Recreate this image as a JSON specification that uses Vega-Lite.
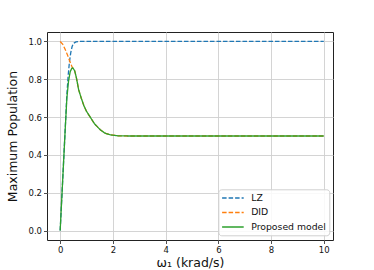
{
  "$schema": "https://vega.github.io/schema/vega-lite/v6.json",
  "autosize": "none",
  "width": 286,
  "height": 208,
  "padding": {"left": 47, "top": 32, "right": 41, "bottom": 30},
  "background": "white",
  "config": {
    "font": "DejaVu Sans",
    "view": {"stroke": "#222", "strokeWidth": 1},
    "axis": {
      "grid": true,
      "gridColor": "#cfcfcf",
      "gridWidth": 0.9,
      "domain": false,
      "tickColor": "#222",
      "tickSize": 3.5,
      "tickWidth": 0.8,
      "labelFontSize": 8.5,
      "labelColor": "#111",
      "labelPadding": 2,
      "titleFontSize": 12.5,
      "titleFontWeight": "normal",
      "titleColor": "#111"
    },
    "legend": {
      "title": null,
      "orient": "none",
      "legendX": 171.3,
      "legendY": 157.3,
      "symbolType": "M-0.96,0H3.36",
      "symbolSize": 100,
      "symbolStrokeWidth": 1.5,
      "labelFontSize": 9.3,
      "labelColor": "#111",
      "labelOffset": 18.3,
      "rowPadding": 2.5,
      "padding": 2.6,
      "strokeColor": "#d0d0d0",
      "fillColor": "rgba(255,255,255,0.85)",
      "cornerRadius": 3
    }
  },
  "datasets": {
    "curves": [
      {"series": "LZ", "w": 0, "p": 0},
      {"series": "LZ", "w": 0.064, "p": 0.18},
      {"series": "LZ", "w": 0.127, "p": 0.357},
      {"series": "LZ", "w": 0.19, "p": 0.535},
      {"series": "LZ", "w": 0.25, "p": 0.71},
      {"series": "LZ", "w": 0.3, "p": 0.815},
      {"series": "LZ", "w": 0.35, "p": 0.89},
      {"series": "LZ", "w": 0.4, "p": 0.94},
      {"series": "LZ", "w": 0.45, "p": 0.972},
      {"series": "LZ", "w": 0.5, "p": 0.99},
      {"series": "LZ", "w": 0.6, "p": 0.998},
      {"series": "LZ", "w": 0.7, "p": 1.0},
      {"series": "LZ", "w": 1.0, "p": 1.0},
      {"series": "LZ", "w": 10, "p": 1.0},
      {"series": "DID", "w": 0, "p": 1.0},
      {"series": "DID", "w": 0.1, "p": 0.985},
      {"series": "DID", "w": 0.2, "p": 0.955},
      {"series": "DID", "w": 0.3, "p": 0.92},
      {"series": "DID", "w": 0.4, "p": 0.882},
      {"series": "DID", "w": 0.47, "p": 0.86},
      {"series": "DID", "w": 0.55, "p": 0.845},
      {"series": "DID", "w": 0.62, "p": 0.805},
      {"series": "DID", "w": 0.7, "p": 0.745},
      {"series": "DID", "w": 0.8, "p": 0.7},
      {"series": "DID", "w": 0.9, "p": 0.66},
      {"series": "DID", "w": 1.0, "p": 0.63},
      {"series": "DID", "w": 1.14, "p": 0.6},
      {"series": "DID", "w": 1.3, "p": 0.565},
      {"series": "DID", "w": 1.52, "p": 0.533},
      {"series": "DID", "w": 1.7, "p": 0.515},
      {"series": "DID", "w": 1.9, "p": 0.506},
      {"series": "DID", "w": 2.2, "p": 0.501},
      {"series": "DID", "w": 2.6, "p": 0.5},
      {"series": "DID", "w": 10, "p": 0.5},
      {"series": "Proposed model", "w": 0, "p": 0},
      {"series": "Proposed model", "w": 0.064, "p": 0.18},
      {"series": "Proposed model", "w": 0.127, "p": 0.357},
      {"series": "Proposed model", "w": 0.19, "p": 0.533},
      {"series": "Proposed model", "w": 0.254, "p": 0.7},
      {"series": "Proposed model", "w": 0.317, "p": 0.79},
      {"series": "Proposed model", "w": 0.38, "p": 0.84},
      {"series": "Proposed model", "w": 0.44, "p": 0.858},
      {"series": "Proposed model", "w": 0.48, "p": 0.86},
      {"series": "Proposed model", "w": 0.55, "p": 0.845},
      {"series": "Proposed model", "w": 0.62, "p": 0.805},
      {"series": "Proposed model", "w": 0.7, "p": 0.745},
      {"series": "Proposed model", "w": 0.8, "p": 0.7},
      {"series": "Proposed model", "w": 0.9, "p": 0.66},
      {"series": "Proposed model", "w": 1.0, "p": 0.63},
      {"series": "Proposed model", "w": 1.14, "p": 0.6},
      {"series": "Proposed model", "w": 1.3, "p": 0.565},
      {"series": "Proposed model", "w": 1.52, "p": 0.533},
      {"series": "Proposed model", "w": 1.7, "p": 0.515},
      {"series": "Proposed model", "w": 1.9, "p": 0.506},
      {"series": "Proposed model", "w": 2.2, "p": 0.501},
      {"series": "Proposed model", "w": 2.6, "p": 0.5},
      {"series": "Proposed model", "w": 10, "p": 0.5}
    ]
  },
  "data": {"name": "curves"},
  "encoding": {
    "x": {
      "field": "w", "type": "quantitative",
      "scale": {"domain": [-0.5, 10.35], "nice": false, "zero": false},
      "axis": {"values": [0, 2, 4, 6, 8, 10], "format": "d", "title": "ω₁ (krad/s)", "titlePadding": 2}
    },
    "y": {
      "field": "p", "type": "quantitative",
      "scale": {"domain": [-0.05, 1.05], "nice": false, "zero": false},
      "axis": {"values": [0, 0.2, 0.4, 0.6, 0.8, 1.0], "format": ".1f", "title": "Maximum Population", "titlePadding": 8}
    },
    "color": {
      "field": "series", "type": "nominal",
      "scale": {"domain": ["LZ", "DID", "Proposed model"], "range": ["#1f77b4", "#ff7f0e", "#2ca02c"]}
    },
    "strokeDash": {
      "field": "series", "type": "nominal",
      "scale": {"domain": ["LZ", "DID", "Proposed model"], "range": [[4.5, 2], [4.5, 2], [1, 0]]}
    }
  },
  "layer": [
    {"transform": [{"filter": "datum.series === 'LZ'"}], "mark": {"type": "line", "strokeWidth": 1.3, "clip": true}},
    {"transform": [{"filter": "datum.series === 'DID'"}], "mark": {"type": "line", "strokeWidth": 1.3, "clip": true}},
    {"transform": [{"filter": "datum.series === 'Proposed model'"}], "mark": {"type": "line", "strokeWidth": 1.3, "clip": true}}
  ]
}
